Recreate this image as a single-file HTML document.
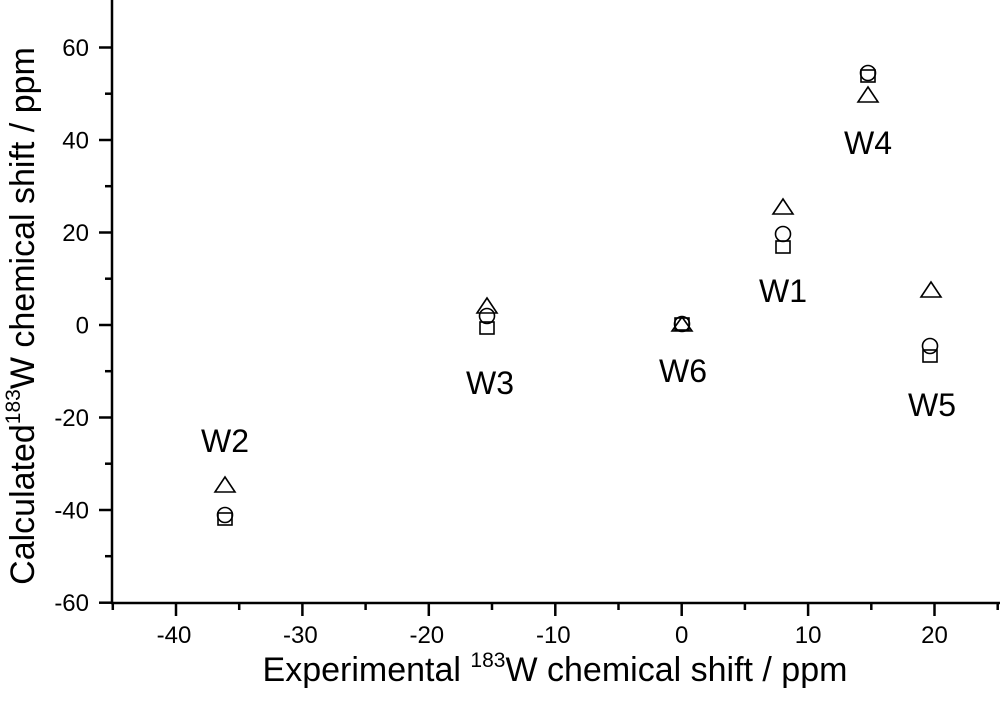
<!DOCTYPE html>
<html><head><meta charset="utf-8"><style>
html,body{margin:0;padding:0;background:#fff}
svg{display:block;font-family:"Liberation Sans",Arial,sans-serif}
</style></head><body>
<svg width="1000" height="710" viewBox="0 0 1000 710" xmlns="http://www.w3.org/2000/svg">
<g stroke="#000" stroke-width="2.5" fill="none">
<line x1="112" y1="0" x2="112" y2="604"/>
<line x1="111" y1="603" x2="1000" y2="603"/>
<line x1="99" y1="47.5" x2="112" y2="47.5"/>
<line x1="99" y1="140" x2="112" y2="140"/>
<line x1="99" y1="232.5" x2="112" y2="232.5"/>
<line x1="99" y1="325" x2="112" y2="325"/>
<line x1="99" y1="417.5" x2="112" y2="417.5"/>
<line x1="99" y1="510" x2="112" y2="510"/>
<line x1="99" y1="602.7" x2="112" y2="602.7"/>
<line x1="105" y1="93.7" x2="112" y2="93.7"/>
<line x1="105" y1="186.2" x2="112" y2="186.2"/>
<line x1="105" y1="278.7" x2="112" y2="278.7"/>
<line x1="105" y1="371.2" x2="112" y2="371.2"/>
<line x1="105" y1="463.7" x2="112" y2="463.7"/>
<line x1="105" y1="556.2" x2="112" y2="556.2"/>
<line x1="176" y1="603" x2="176" y2="616"/>
<line x1="302.4" y1="603" x2="302.4" y2="616"/>
<line x1="428.8" y1="603" x2="428.8" y2="616"/>
<line x1="555.3" y1="603" x2="555.3" y2="616"/>
<line x1="681.7" y1="603" x2="681.7" y2="616"/>
<line x1="808.1" y1="603" x2="808.1" y2="616"/>
<line x1="934.5" y1="603" x2="934.5" y2="616"/>
<line x1="112.8" y1="603" x2="112.8" y2="610"/>
<line x1="239.2" y1="603" x2="239.2" y2="610"/>
<line x1="365.6" y1="603" x2="365.6" y2="610"/>
<line x1="492" y1="603" x2="492" y2="610"/>
<line x1="618.5" y1="603" x2="618.5" y2="610"/>
<line x1="744.9" y1="603" x2="744.9" y2="610"/>
<line x1="871.3" y1="603" x2="871.3" y2="610"/>
<line x1="997.7" y1="603" x2="997.7" y2="610"/>
</g>
<g font-size="24" text-anchor="end" fill="#000">
<text x="89" y="56">60</text>
<text x="89" y="148.5">40</text>
<text x="89" y="241">20</text>
<text x="89" y="333.5">0</text>
<text x="89" y="426">-20</text>
<text x="89" y="518.5">-40</text>
<text x="89" y="611">-60</text>
</g>
<g font-size="24" text-anchor="middle" fill="#000">
<text x="174" y="643">-40</text>
<text x="300.4" y="643">-30</text>
<text x="426.8" y="643">-20</text>
<text x="553.3" y="643">-10</text>
<text x="681.7" y="643">0</text>
<text x="808.1" y="643">10</text>
<text x="934.5" y="643">20</text>
</g>
<text x="555" y="681" font-size="34" text-anchor="middle">Experimental <tspan font-size="21" dy="-14">183</tspan><tspan dy="14">W chemical shift / ppm</tspan></text>
<text transform="translate(34,316) rotate(-90)" font-size="34" text-anchor="middle">Calculated<tspan font-size="21" dy="-14">183</tspan><tspan dy="14">W chemical shift / ppm</tspan></text>
<g font-size="32" text-anchor="middle">
<text x="225" y="452">W2</text>
<text x="490" y="394">W3</text>
<text x="683" y="382">W6</text>
<text x="783" y="302">W1</text>
<text x="868" y="154">W4</text>
<text x="932" y="416">W5</text>
</g>
<g stroke="#000" stroke-width="1.6" fill="none">
<rect x="218" y="513" width="14" height="12"/>
<rect x="480" y="322" width="14" height="12"/>
<rect x="675" y="318" width="14" height="12"/>
<rect x="776" y="241" width="14" height="12"/>
<rect x="861" y="70" width="14" height="12"/>
<rect x="923" y="350" width="14" height="12"/>
<circle cx="225" cy="515" r="7.5"/>
<circle cx="487" cy="316" r="7.5"/>
<circle cx="682" cy="324" r="7.5"/>
<circle cx="783" cy="234" r="7.5"/>
<circle cx="868" cy="73" r="7.5"/>
<circle cx="930" cy="346" r="7.5"/>
<path d="M225 477 L235 492 L215 492 Z"/>
<path d="M487 298 L497 313 L477 313 Z"/>
<path d="M682 317 L692 331 L672 331 Z"/>
<path d="M783 199 L793 214 L773 214 Z"/>
<path d="M868 87 L878 102 L858 102 Z"/>
<path d="M931 282 L941 297 L921 297 Z"/>
</g>
</svg>
</body></html>
